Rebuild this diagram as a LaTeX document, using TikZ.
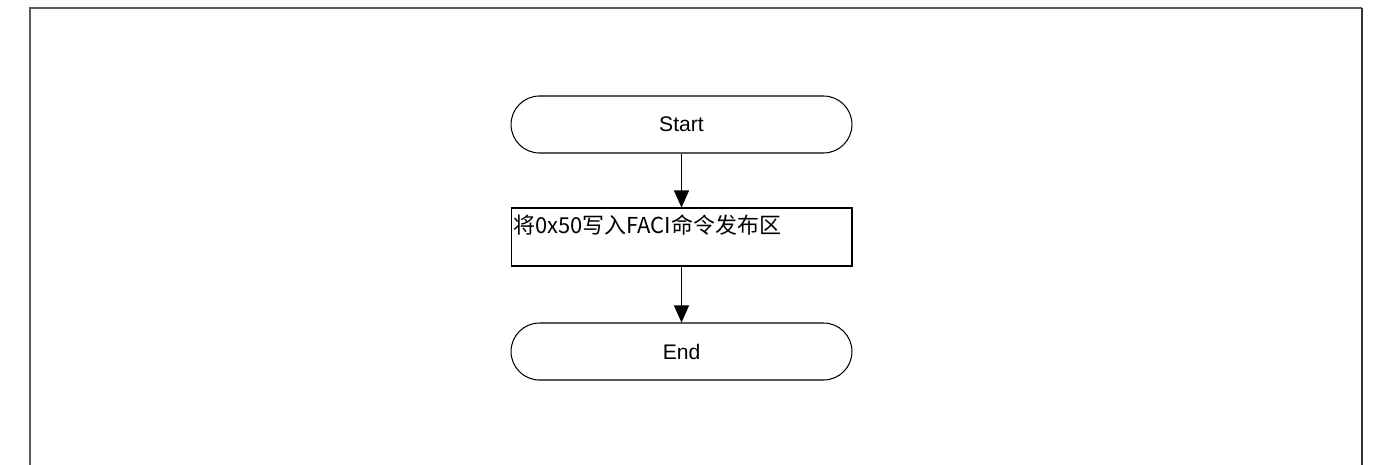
\documentclass[tikz,border=0pt]{standalone}
\usepackage{fontspec}
\setmainfont{Liberation Sans}
\newfontfamily\cjk{Noto Sans CJK SC}
\usepackage{tikz}
\usetikzlibrary{positioning,arrows.meta,calc}

\definecolor{frameGray}{HTML}{5A5A5A}
\definecolor{frameDark}{HTML}{333333}

\begin{document}
\begin{tikzpicture}[x=0.02cm, y=-0.02cm, font=\fontsize{12}{14}\selectfont, line width=0.6pt,
  term/.style={draw=black, rectangle, rounded corners=0.57cm, minimum width=6.82cm, minimum height=1.14cm},
  procbox/.style={draw=black, rectangle, minimum width=6.82cm, minimum height=1.16cm},
  arr/.style={-{Triangle[length=0.34cm, width=0.3cm]}}]
\useasboundingbox (0,0) rectangle (1373,464);
% outer frame, open at the bottom
\draw[frameGray, line width=0.8pt] (30,470) -- (30,8) -- (1362,8);
\draw[frameDark, line width=0.9pt] (1362,8) -- (1362,470);
\node[term] (start) at (681.5,124.5) {Start};
\node[procbox] (write) at (681.5,237) {};
\node[anchor=north west, inner sep=0pt, font=\cjk\fontsize{12.5}{14}\selectfont] (writetxt) at ($(write.north west)+(2,7)$) {将0x50写入FACI命令发布区};
\node[term] (end) at (681.5,351.5) {End};
\draw[arr] (start) -- (write);
\draw[arr] (write) -- (end);
\end{tikzpicture}
\end{document}
